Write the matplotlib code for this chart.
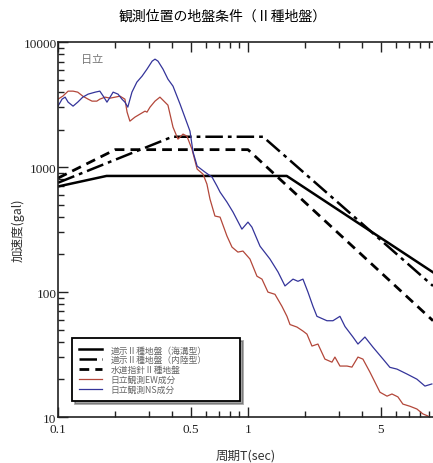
import matplotlib
matplotlib.use("Agg")
import matplotlib.pyplot as plt
from matplotlib.ticker import FixedLocator, NullFormatter
import numpy as np

plt.rcParams['font.family'] = ['Noto Sans CJK JP', 'DejaVu Sans']

# design spectra (period [s], acceleration [gal])
kaiko_T = [0.1, 0.18, 1.6, 9.42]
kaiko_S = [700, 850, 850, 144]
nairiku_T = [0.1, 0.4, 1.2, 9.42]
nairiku_S = [750, 1750, 1750, 112]
suido_T = [0.1, 0.2, 1.0, 9.42]
suido_S = [817, 1380, 1380, 59]

# observed spectra at Hitachi
ns_T = [0.100, 0.105, 0.109, 0.113, 0.120, 0.127, 0.135, 0.144, 0.157, 0.166,
        0.173, 0.181, 0.188, 0.195, 0.207, 0.217, 0.225, 0.233, 0.245, 0.260,
        0.277, 0.294, 0.313, 0.324, 0.336, 0.357, 0.379, 0.403, 0.439, 0.495,
        0.514, 0.540, 0.594, 0.647, 0.687, 0.713, 0.775, 0.834, 0.929, 1.00,
        1.049, 1.157, 1.305, 1.439, 1.566, 1.726, 1.833, 1.947, 2.069, 2.198,
        2.307, 2.604, 2.801, 3.049, 3.242, 3.570, 3.793, 4.127, 4.546, 5.140,
        5.585, 6.085, 6.870, 7.750, 8.542, 9.29]
ns_S = [3076, 3499, 3631, 3311, 3076, 3311, 3631, 3837, 3981, 4055,
        3698, 3311, 3631, 3981, 3837, 3499, 3311, 3020, 3981, 4786,
        5346, 6081, 7047, 7311, 7047, 6081, 5058, 4446, 3192, 1941,
        1318, 1019, 912, 832, 705, 631, 525, 437, 319, 363,
        331, 233, 184, 145, 112, 127, 122, 127, 100, 77,
        64, 59, 59, 64, 53, 43.7, 38.4, 43.7, 36.3, 29.1,
        25.0, 24.2, 22.1, 20.1, 17.7, 18.4]

ew_T = [0.100, 0.106, 0.113, 0.120, 0.127, 0.135, 0.144, 0.151, 0.160, 0.166,
        0.177, 0.188, 0.200, 0.212, 0.225, 0.231, 0.239, 0.254, 0.270, 0.287,
        0.294, 0.305, 0.324, 0.344, 0.379, 0.403, 0.428, 0.455, 0.477, 0.507,
        0.540, 0.580, 0.608, 0.631, 0.670, 0.713, 0.775, 0.824, 0.885, 0.941,
        1.024, 1.115, 1.185, 1.274, 1.387, 1.509, 1.604, 1.664, 1.811, 1.947,
        2.044, 2.172, 2.335, 2.541, 2.767, 2.869, 3.049, 3.321, 3.526, 3.793,
        4.027, 4.385, 4.954, 5.395, 5.728, 6.156, 6.540, 7.125, 7.750, 8.333,
        8.855, 9.42]
ew_S = [3499, 3698, 4055, 4055, 3981, 3698, 3499, 3373, 3373, 3499,
        3631, 3565, 3631, 3698, 3499, 2754, 2333, 2512, 2655, 2805,
        2754, 3020, 3373, 3631, 3133, 2089, 1675, 1837, 1770, 1393,
        964, 879, 731, 555, 406, 398, 281, 229, 209, 213,
        184, 134, 127, 100, 96, 77, 64, 55, 52.5, 48.8,
        46.1, 37.0, 38.4, 29.1, 27.5, 30.2, 25.6, 25.6, 25.1, 30.2,
        29.1, 22.9, 15.8, 14.7, 15.3, 14.5, 12.7, 12.2, 11.6, 10.6,
        10.2, 9.5]

legend_labels = ['道示Ⅱ種地盤（海溝型）', '道示Ⅱ種地盤（内陸型）', '水道指針Ⅱ種地盤',
                 '日立観測EW成分', '日立観測NS成分']

fig = plt.figure(figsize=(4.33, 4.64), dpi=100)
ax = fig.add_axes([0.134, 0.099, 0.866, 0.808])

ax.plot(kaiko_T, kaiko_S, color='black', lw=1.8, label=legend_labels[0])
ax.plot(nairiku_T, nairiku_S, color='black', lw=1.8, dashes=(7, 2, 1.5, 2),
        label=legend_labels[1])
ax.plot(suido_T, suido_S, color='black', lw=2.0, dashes=(3.5, 2.2),
        label=legend_labels[2])
ax.plot(ew_T, ew_S, color='#b3473a', lw=0.9, label=legend_labels[3])
ax.plot(ns_T, ns_S, color='#34349a', lw=0.9, label=legend_labels[4])

ax.set_xscale('log')
ax.set_yscale('log')
ax.set_xlim(0.1, 9.42)
ax.set_ylim(10, 10000)

ax.xaxis.set_major_locator(FixedLocator([0.1, 0.5, 1, 5]))
ax.xaxis.set_minor_locator(FixedLocator([0.2, 0.3, 0.4, 0.6, 0.7, 0.8, 0.9,
                                         2, 3, 4, 6, 7, 8, 9]))
ax.xaxis.set_minor_formatter(NullFormatter())
ax.set_xticklabels(['0.1', '0.5', '1', '5'])
ax.yaxis.set_major_locator(FixedLocator([10, 100, 1000, 10000]))
ax.set_yticklabels(['10', '100', '1000', '10000'])
ax.yaxis.set_minor_formatter(NullFormatter())

ax.tick_params(which='both', direction='in', top=True, right=False, width=1,
               colors='#222222', labelfontfamily='Liberation Serif',
               labelsize=9.5)
ax.tick_params(axis='y', pad=1)
ax.tick_params(axis='x', pad=4)
ax.tick_params(which='major', length=7)
ax.tick_params(which='minor', length=4)
ax.spines['right'].set_visible(False)
for s in ['left', 'bottom', 'top']:
    ax.spines[s].set_linewidth(1.2)
    ax.spines[s].set_color('#222222')

ax.set_title('観測位置の地盤条件（Ⅱ種地盤）', fontsize=10, pad=16, x=0.44)
ax.set_ylabel('加速度(gal)', fontsize=9, color='#333333')
ax.yaxis.set_label_coords(-0.088, 0.5)
ax.set_xlabel('周期T(sec)', fontsize=9, color='#333333', labelpad=10)

ax.text(0.06, 0.955, '日立', transform=ax.transAxes, fontsize=8,
        color='#777777', va='center')

leg = ax.legend(loc='lower left', bbox_to_anchor=(0.037, 0.043, 0.448, 0.17),
                mode='expand', fontsize=6.3, handlelength=2.6,
                handletextpad=1.0, labelspacing=0.1, borderpad=0.8,
                fancybox=False, shadow=True, framealpha=1,
                edgecolor='black', borderaxespad=0)
leg.get_frame().set_linewidth(1.3)
for t in leg.get_texts():
    t.set_color('#666666')

fig.savefig('out.png', dpi=100)
